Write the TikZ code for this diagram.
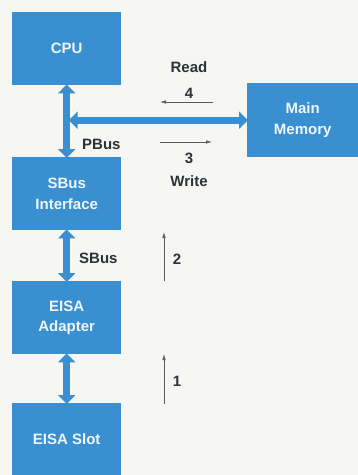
\documentclass[tikz,border=0pt]{standalone}
\usepackage{fontspec}
\setmainfont{Liberation Sans}
\usetikzlibrary{arrows.meta,positioning}
\definecolor{busblue}{RGB}{58,143,208}
\definecolor{paper}{RGB}{246,246,243}
\definecolor{ink}{RGB}{45,50,55}
\tikzstyle{bloque} = [fill=busblue, text=white!92!busblue, inner sep=0pt, minimum width=109pt, minimum height=73pt, anchor=north west, align=center, font=\bfseries\fontsize{15}{20.5}\selectfont]
\tikzstyle{bus} = [busblue, line width=7pt, {Triangle[width=17pt,length=9pt]}-{Triangle[width=17pt,length=9pt]}, shorten <=-1pt, shorten >=-1pt]
\tikzstyle{paso} = [ink!80, line width=0.7pt, -{Latex[length=6pt,width=3.5pt]}]
\tikzstyle{etiqueta} = [text=ink, font=\bfseries\fontsize{15}{18}\selectfont, inner sep=0pt]

\begin{document}
\begin{tikzpicture}[x=1pt,y=-1pt]
\fill[paper] (0,0) rectangle (358,475);
\useasboundingbox (0,0) rectangle (358,475);

\node[bloque] (cpu) at (12,12) {CPU};
\node[bloque, minimum width=111pt, minimum height=74pt] (mem) at (247,83) {Main\\Memory};
\node[bloque] (sbus) at (12,157) {SBus\\Interface};
\node[bloque] (eisa) at (12,281) {EISA\\Adapter};
\node[bloque, minimum height=72pt] (slot) at (12,403) {EISA Slot};

% buses
\draw[bus] (cpu.south) -- (sbus.north);
\coordinate (pj) at ([xshift=3pt]cpu.south |- mem.west);
\draw[bus] (pj) -- (mem.west);
\draw[bus] (sbus.south) -- (eisa.north);
\draw[bus] (eisa.south) -- (slot.north);

\node[etiqueta, anchor=west] (pbus) at (82,144) {PBus};
\node[etiqueta, anchor=west] (sbusl) at (79,258) {SBus};

% transacciones
\node[etiqueta] (read) at (189,67) {Read};
\node[etiqueta] (n4) at (189,93) {4};
\node[etiqueta] (n3) at (189,158) {3};
\node[etiqueta] (write) at (189,181) {Write};
\coordinate (r0) at (213,102); \coordinate (r1) at (160,102);
\coordinate (w0) at (160,142); \coordinate (w1) at (212,142);
\draw[paso] (r0) -- (r1);
\draw[paso] (w0) -- (w1);

\coordinate (a0) at (164,281); \coordinate (a1) at (164,232);
\coordinate (b0) at (164,404); \coordinate (b1) at (164,354);
\draw[paso] (a0) -- (a1);
\draw[paso] (b0) -- (b1);
\node[etiqueta] (n2) at (177,259) {2};
\node[etiqueta] (n1) at (177,381) {1};
\end{tikzpicture}
\end{document}
